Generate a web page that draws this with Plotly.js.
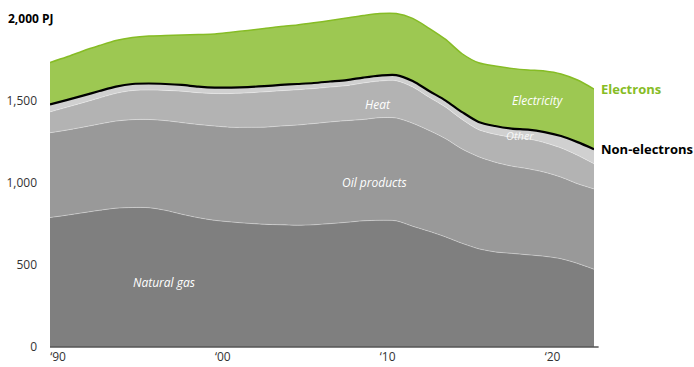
<!DOCTYPE html>
<html>
<head>
<meta charset="utf-8">
<script src="https://cdn.plot.ly/plotly-3.0.1.min.js"></script>
<style>
  html, body { margin: 0; padding: 0; background: #ffffff; }
  #chart { width: 694px; height: 367px; }
</style>
</head>
<body>
<div id="chart"></div>
<script>
// Final energy use by carrier, PJ per year
const years = [1990,1991,1992,1993,1994,1995,1996,1997,1998,1999,
               2000,2001,2002,2003,2004,2005,2006,2007,2008,2009,
               2010,2011,2012,2013,2014,2015,2016,2017,2018,2019,
               2020,2021,2022,2023];

const naturalGas = [788,802,817,832,845,849,848,832,808,787,
                    771,761,753,747,744,741,744,751,759,768,
                    771,768,735,704,670,631,598,579,570,561,
                    552,537,509,473];

const oilProducts = [516,518,521,525,530,535,537,546,558,567,
                     574,576,584,591,601,610,616,619,619,617,
                     625,626,627,614,598,574,560,546,531,524,
                     512,497,485,489];

const heat = [127,139,149,159,169,177,179,184,191,194,
              198,206,210,215,215,215,213,212,213,222,
              223,227,221,202,192,180,165,170,176,182,
              180,178,173,153];

const other = [45,44,43,42,41,40,40,39,38,37,
               36,36,35,35,35,35,34,34,34,33,
               33,34,36,38,40,45,47,50,52,56,
               64,72,80,89];

const electricity = [256,262,272,277,281,283,289,295,304,317,
                     326,337,345,351,356,359,366,372,378,378,
                     378,375,381,382,372,355,360,365,367,363,
                     372,378,378,366];

const xTickVals = [1990, 2000, 2010, 2020];
const xTickText = ['\u201890', '\u201800', '\u201810', '\u201820'];
const yTickVals = [0, 500, 1000, 1500];
const yTickText = ['0', '500', '1,000', '1,500'];

const FONT = '"Open Sans", "Noto Sans", sans-serif';
const GREEN = '#86bc25';
const SEP = 'rgba(255,255,255,0.35)';

function layer(name, values, fill, lineColor, lineWidth) {
  return {
    type: 'scatter', mode: 'lines', name: name,
    x: years, y: values, stackgroup: 'energy',
    fillcolor: fill,
    line: { color: lineColor, width: lineWidth, shape: 'spline', smoothing: 0.8 },
    hoverinfo: 'skip'
  };
}

const traces = [
  layer('Natural gas', naturalGas, '#7f7f7f', SEP, 1),
  layer('Oil products', oilProducts, '#999999', SEP, 1),
  layer('Heat', heat, '#b3b3b3', SEP, 1),
  layer('Other', other, '#d0d0d0', '#000000', 2.2),
  layer('Electricity', electricity, '#9dc852', GREEN, 1.5)
];

const last = years.length - 1;
const nonElectronsEnd = naturalGas[last] + oilProducts[last] + heat[last] + other[last];
const electronsEnd = nonElectronsEnd + electricity[last];

function areaLabel(text, x, y, size, color) {
  return {
    x: x, y: y, xref: 'x', yref: 'y', showarrow: false,
    text: '<i>' + text + '</i>',
    font: { family: FONT, size: size, color: color }
  };
}

const layout = {
  width: 694, height: 367,
  margin: { l: 50, r: 100, t: 2, b: 20 },
  paper_bgcolor: '#ffffff', plot_bgcolor: '#ffffff',
  showlegend: false,
  font: { family: FONT, size: 12, color: '#333333' },
  xaxis: {
    range: [1990, 2023], fixedrange: true,
    tickvals: xTickVals, ticktext: xTickText,
    ticks: '', showgrid: false, zeroline: false, showline: false,
    ticklabelshift: 8, ticklabelstandoff: 1,
    tickfont: { family: FONT, size: 12, color: '#333333' }
  },
  yaxis: {
    range: [0, 2100], fixedrange: true,
    tickvals: yTickVals, ticktext: yTickText,
    ticks: '', showgrid: false, zeroline: false, showline: false,
    ticklabelstandoff: 12,
    tickfont: { family: FONT, size: 12, color: '#333333' }
  },
  shapes: [
    { type: 'line', xref: 'paper', yref: 'paper', x0: 0, x1: 1.0085, y0: 0, y1: 0,
      line: { color: '#555555', width: 1.5 } }
  ],
  annotations: [
    { x: -0.081, y: 2000, xref: 'paper', yref: 'y', xanchor: 'left', showarrow: false,
      text: '<b>2,000 PJ</b>', font: { family: FONT, size: 12, color: '#000000' } },
    { x: 1, y: electronsEnd, xref: 'paper', yref: 'y', xanchor: 'left', xshift: 5,
      showarrow: false, text: '<b>Electrons</b>',
      font: { family: FONT, size: 13, color: GREEN } },
    { x: 1, y: nonElectronsEnd, xref: 'paper', yref: 'y', xanchor: 'left', xshift: 5,
      showarrow: false, text: '<b>Non-electrons</b>',
      font: { family: FONT, size: 13, color: '#000000' } },
    areaLabel('Natural gas', 1996.9, 393, 12, '#ffffff'),
    areaLabel('Oil products', 2009.7, 1001, 12, '#ffffff'),
    areaLabel('Heat', 2009.9, 1476, 12, '#ffffff'),
    areaLabel('Electricity', 2019.6, 1503, 12, '#ffffff'),
    areaLabel('Other', 2018.5, 1290, 11, 'rgba(255,255,255,0.85)')
  ]
};

Plotly.newPlot('chart', traces, layout, { staticPlot: true, displayModeBar: false });
</script>
</body>
</html>
